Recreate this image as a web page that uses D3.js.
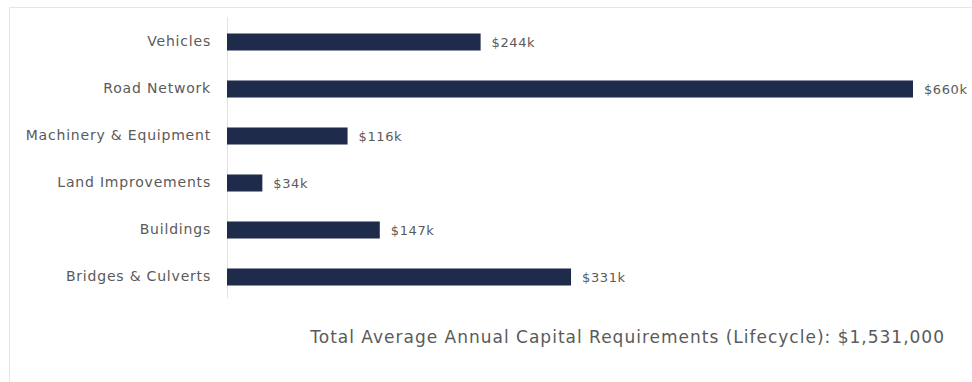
<script src="https://d3js.org/d3.v7.min.js"></script>
<html>
<body style="margin:0;background:#fff">
<div id="chart"></div>
<script>
// asset categories, top to bottom, with annual requirement in $k
var categories = ["Vehicles", "Road Network", "Machinery & Equipment", "Land Improvements", "Buildings", "Bridges & Culverts"];
var values = [244, 660, 116, 34, 147, 331];
var valueLabels = ["$244k", "$660k", "$116k", "$34k", "$147k", "$331k"];
var totalText = "Total Average Annual Capital Requirements (Lifecycle): $1,531,000";

var width = 972, height = 382;
var fontFam = "'DejaVu Sans', Verdana, sans-serif";

var svg = d3.select("#chart").append("svg")
  .attr("width", width)
  .attr("height", height);

// faint panel border (only top and left edges visible)
svg.append("rect")
  .attr("x", 9.5).attr("y", 7.5)
  .attr("width", 1000).attr("height", 400)
  .attr("fill", "none")
  .attr("stroke", "#e6e6e6");

var x = d3.scaleLinear()
  .domain([0, 660])
  .range([227, 913]);

var y = d3.scaleBand()
  .domain(categories)
  .range([33.5, 285.5])
  .paddingInner(0.638)
  .paddingOuter(0);

// axis line
svg.append("line")
  .attr("x1", 227.5).attr("x2", 227.5)
  .attr("y1", 17).attr("y2", 298)
  .attr("stroke", "#e3e3e3");

var yAx = d3.axisLeft(y).tickSize(0).tickPadding(16);
var yGroup = svg.append("g")
  .attr("transform", "translate(227,0)")
  .call(yAx);
yGroup.select(".domain").remove();
yGroup.selectAll("text")
  .attr("fill", "#5a5a5a")
  .style("font-family", fontFam)
  .style("font-size", "14px")
  .style("letter-spacing", "0.8px");

svg.selectAll("rect.bar")
  .data(values)
  .enter().append("rect")
  .attr("class", "bar")
  .attr("x", x(0))
  .attr("y", function(d, i) { return y(categories[i]); })
  .attr("width", function(d) { return x(d) - x(0); })
  .attr("height", y.bandwidth())
  .attr("fill", "#1f2b4b");

svg.selectAll("text.val")
  .data(values)
  .enter().append("text")
  .attr("class", "val")
  .attr("x", function(d) { return x(d) + 11; })
  .attr("y", function(d, i) { return y(categories[i]) + y.bandwidth() / 2; })
  .attr("dy", "0.35em")
  .attr("fill", "#5a5a5a")
  .style("font-family", fontFam)
  .style("font-size", "13px")
  .style("letter-spacing", "0.6px")
  .text(function(d, i) { return valueLabels[i]; });

svg.append("text")
  .attr("x", 945)
  .attr("y", 337)
  .attr("dy", "0.35em")
  .attr("text-anchor", "end")
  .attr("fill", "#5a5a5a")
  .style("font-family", fontFam)
  .style("font-size", "17px")
  .style("letter-spacing", "1px")
  .text(totalText);
</script>
</body>
</html>
